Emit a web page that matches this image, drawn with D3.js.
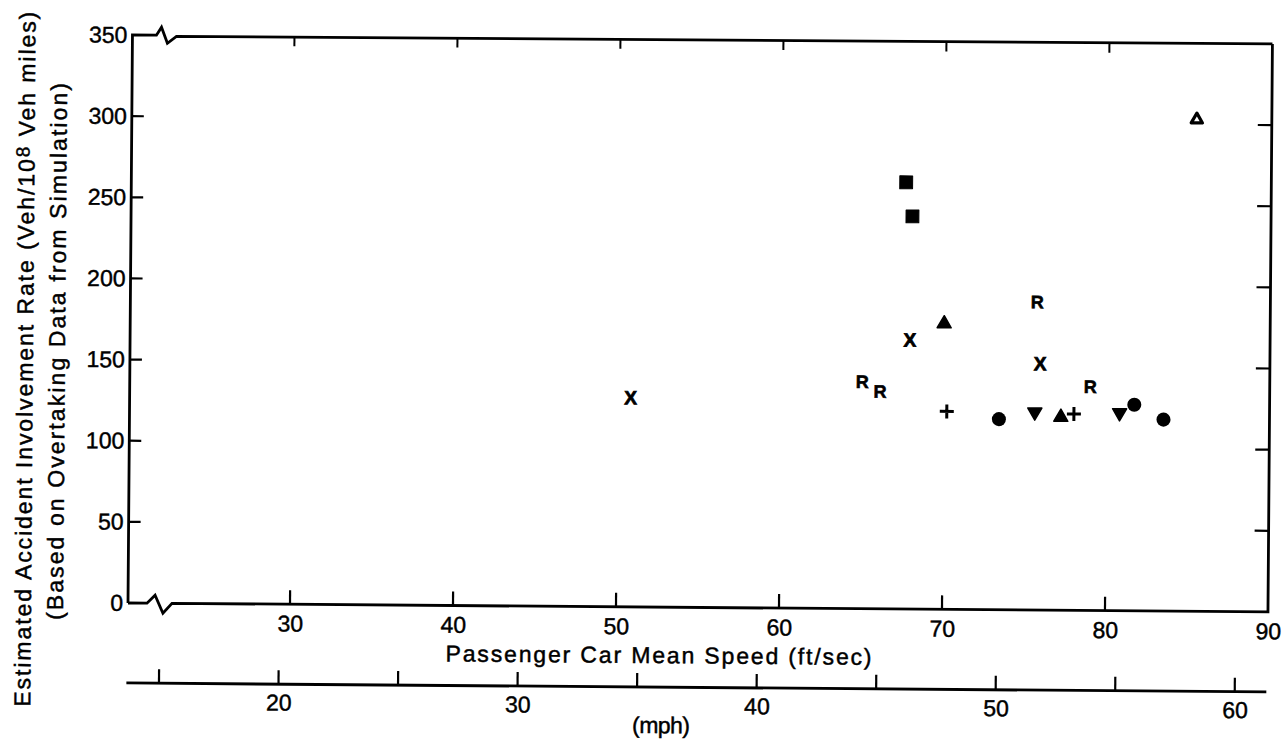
<!DOCTYPE html>
<html><head><meta charset="utf-8">
<script src="https://cdn.jsdelivr.net/npm/d3@7"></script>
<style>
body{margin:0;background:#fff}
svg text{font-family:"Liberation Sans",Arial,sans-serif;fill:#000;stroke:#000;stroke-width:0.45px}
</style>
</head><body>
<svg id="chart" width="1286" height="743"></svg>
<script>
// ---- data (ft/sec, accidents per 10^8 veh-miles) ----
const ftTicks = [30, 40, 50, 60, 70, 80, 90];
const mphTicks = [15, 20, 25, 30, 35, 40, 45, 50, 55, 60];
const mphLabels = [20, 30, 40, 50, 60];
const yTicks = [0, 50, 100, 150, 200, 250, 300, 350];

const crossX = [[50.8, 129], [67.9, 166], [75.9, 152]];
const letterR = [[65.0, 140], [66.1, 134], [75.7, 190], [79.0, 138]];
const filledSquare = [[67.6, 263], [68.0, 242]];
const filledTriangle = [[70.0, 176], [77.2, 119]];
const plusMark = [[70.2, 122], [78.0, 121]];
const filledCircle = [[73.4, 117.5], [81.7, 127], [83.5, 118]];
const triangleDown = [[75.6, 122], [80.8, 122]];
const openTriangle = [[85.4, 303]];

const yTitle1 = "Estimated Accident Involvement Rate (Veh/10";
const yTitle1b = "8";
const yTitle1c = " Veh miles)";
const yTitle2 = "(Based on Overtaking Data from Simulation)";
const xTitle = "Passenger Car Mean Speed (ft/sec)";
const mphTitle = "(mph)";

// ---- layout ----
const L = 128, R = 1268, T = 35, B = 603, B2 = 683;
const FONT = '"Liberation Sans",Arial,sans-serif';
const FS = 23;
const svg = d3.select("#chart");
const g = svg.append("g").attr("transform", `rotate(0.45,130,603)`);

const x = d3.scaleLinear().domain([30, 90]).range([290, 1268]);
const xm = d3.scaleLinear().domain(x.domain().map(v => v * 15 / 22)).range(x.range());
const y = d3.scaleLinear().domain([0, 350]).range([B, T]);

const lw = 2.8;
const line = d3.line();
const bottomPath = [[L, B], [147, B], [155, B - 8], [163, B + 10], [172, B], [R, B], [R, T]];
const topPath = [[L, B], [L, T], [152, T], [157, T - 8], [163, T + 8], [172, T + 1], [R, T]];
g.append("path").attr("d", line(bottomPath)).attr("fill", "none").attr("stroke", "#000").attr("stroke-width", lw);
g.append("path").attr("d", line(topPath)).attr("fill", "none").attr("stroke", "#000").attr("stroke-width", lw);

function styleAxis(sel) {
  sel.select(".domain").remove();
  sel.attr("font-family", FONT).attr("font-size", FS);
  sel.selectAll("text").attr("font-size", FS).style("font-family", FONT);
}

// bottom ft/sec axis
const xAxis = d3.axisBottom(x).tickValues(ftTicks).tickSize(0).tickPadding(11).tickFormat(d3.format("d"));
const xa = g.append("g").attr("transform", `translate(0,${B})`).call(xAxis);
styleAxis(xa);
g.selectAll(".xt").data(ftTicks.filter(d => d < 90)).enter().append("line")
  .attr("x1", d => x(d)).attr("x2", d => x(d)).attr("y1", B).attr("y2", B - 14)
  .attr("stroke", "#000").attr("stroke-width", 2.2);
g.selectAll(".xtt").data(ftTicks.filter(d => d < 90)).enter().append("line")
  .attr("x1", d => x(d)).attr("x2", d => x(d)).attr("y1", T).attr("y2", T + 10)
  .attr("stroke", "#000").attr("stroke-width", 2);

// mph axis
g.append("line").attr("x1", 127).attr("x2", 1267).attr("y1", B2).attr("y2", B2).attr("stroke", "#000").attr("stroke-width", lw);
const mAxis = d3.axisBottom(xm).tickValues(mphLabels).tickSize(0).tickPadding(10).tickFormat(d3.format("d"));
const ma = g.append("g").attr("transform", `translate(0,${B2})`).call(mAxis);
styleAxis(ma);
g.selectAll(".mt").data(mphTicks).enter().append("line")
  .attr("x1", d => xm(d)).attr("x2", d => xm(d)).attr("y1", B2).attr("y2", B2 - 14)
  .attr("stroke", "#000").attr("stroke-width", 2.2);

// y axis
const yAxis = d3.axisLeft(y).tickValues(yTicks).tickSize(0).tickPadding(5).tickFormat(d3.format("d"));
const ya = g.append("g").attr("transform", `translate(${L},0)`).call(yAxis);
styleAxis(ya);
const inner = yTicks.filter(d => d > 0 && d < 350);
g.selectAll(".yl").data(inner).enter().append("line")
  .attr("x1", L).attr("x2", L + 12).attr("y1", d => y(d)).attr("y2", d => y(d))
  .attr("stroke", "#000").attr("stroke-width", 2.2);
g.selectAll(".yr").data(inner).enter().append("line")
  .attr("x1", R).attr("x2", R - 14).attr("y1", d => y(d)).attr("y2", d => y(d))
  .attr("stroke", "#000").attr("stroke-width", 2.2);

// titles
const t1 = g.append("text").attr("transform", "translate(31,360) rotate(-90)")
  .attr("text-anchor", "middle").attr("font-size", 23)
  .attr("textLength", 695).attr("lengthAdjust", "spacing");
t1.append("tspan").text(yTitle1);
t1.append("tspan").attr("dy", -5).attr("font-size", 19).text(yTitle1b);
t1.append("tspan").attr("dy", 5).text(yTitle1c);
g.append("text").attr("transform", "translate(63,352) rotate(-90)")
  .attr("text-anchor", "middle").attr("font-size", 23)
  .attr("textLength", 537).attr("lengthAdjust", "spacing").text(yTitle2);
g.append("text").attr("x", 659).attr("y", 659).attr("text-anchor", "middle")
  .attr("font-size", 23).attr("textLength", 426).attr("lengthAdjust", "spacing").text(xTitle);
g.append("text").attr("x", 662).attr("y", 729).attr("text-anchor", "middle")
  .attr("font-size", 23).attr("textLength", 58).attr("lengthAdjust", "spacing").text(mphTitle);

// markers
const pts = g.append("g");
pts.selectAll(".sq").data(filledSquare).enter().append("path")
  .attr("d", d3.symbol(d3.symbolSquare, 165)())
  .attr("transform", d => `translate(${x(d[0])},${y(d[1])})`).attr("fill", "#000")
  .attr("stroke", "#000").attr("stroke-width", 1).attr("stroke-linejoin", "round");
pts.selectAll(".ci").data(filledCircle).enter().append("path")
  .attr("d", d3.symbol(d3.symbolCircle, 155)())
  .attr("transform", d => `translate(${x(d[0])},${y(d[1])})`).attr("fill", "#000");
pts.selectAll(".tu").data(filledTriangle).enter().append("path")
  .attr("d", d3.symbol(d3.symbolTriangle, 85)())
  .attr("transform", d => `translate(${x(d[0])},${y(d[1])})`).attr("fill", "#000")
  .attr("stroke", "#000").attr("stroke-width", 1.5).attr("stroke-linejoin", "round");
pts.selectAll(".td").data(triangleDown).enter().append("path")
  .attr("d", d3.symbol(d3.symbolTriangle, 85)())
  .attr("transform", d => `translate(${x(d[0])},${y(d[1])}) rotate(180)`).attr("fill", "#000")
  .attr("stroke", "#000").attr("stroke-width", 1.5).attr("stroke-linejoin", "round");
pts.selectAll(".to").data(openTriangle).enter().append("path")
  .attr("d", d3.symbol(d3.symbolTriangle, 55)())
  .attr("transform", d => `translate(${x(d[0])},${y(d[1])})`).attr("fill", "#fff")
  .attr("stroke", "#000").attr("stroke-width", 3.2).attr("stroke-linejoin", "round");
pts.selectAll(".pl").data(plusMark).enter().append("path")
  .attr("d", "M-7,0H7M0,-7V7")
  .attr("transform", d => `translate(${x(d[0])},${y(d[1])})`).attr("fill", "none")
  .attr("stroke", "#000").attr("stroke-width", 3);
pts.selectAll(".xx").data(crossX).enter().append("text")
  .attr("x", d => x(d[0])).attr("y", d => y(d[1])).attr("dy", "0.36em")
  .attr("text-anchor", "middle").attr("font-size", 19).attr("font-weight", "bold")
  .style("stroke-width", "0.8px").text("X");
pts.selectAll(".rr").data(letterR).enter().append("text")
  .attr("x", d => x(d[0])).attr("y", d => y(d[1])).attr("dy", "0.36em")
  .attr("text-anchor", "middle").attr("font-size", 18).attr("font-weight", "bold")
  .style("stroke-width", "0.6px").text("R");
</script>
</body></html>
